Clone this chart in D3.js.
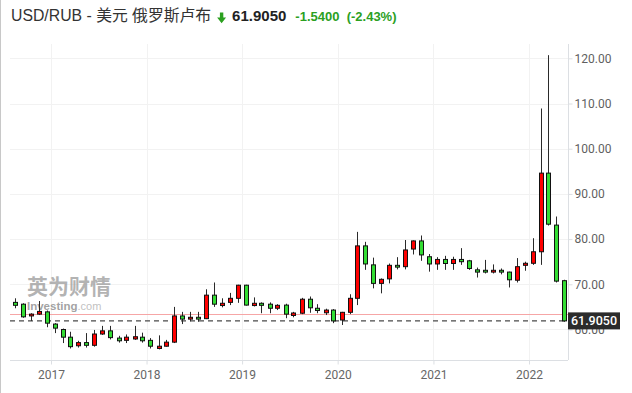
<!DOCTYPE html>
<html>
<head>
<meta charset="utf-8">
<script src="https://cdn.jsdelivr.net/npm/d3@7"></script>
<style>
  html, body { margin: 0; padding: 0; background: #fff; }
  #chart { width: 632px; height: 393px; }
</style>
</head>
<body>
<div id="chart"></div>
<script>
// 月K线数据 (USD/RUB)
const months = [
  '2016-08', '2016-09', '2016-10', '2016-11', '2016-12',
  '2017-01', '2017-02', '2017-03', '2017-04', '2017-05', '2017-06', '2017-07', '2017-08', '2017-09', '2017-10', '2017-11', '2017-12',
  '2018-01', '2018-02', '2018-03', '2018-04', '2018-05', '2018-06', '2018-07', '2018-08', '2018-09', '2018-10', '2018-11', '2018-12',
  '2019-01', '2019-02', '2019-03', '2019-04', '2019-05', '2019-06', '2019-07', '2019-08', '2019-09', '2019-10', '2019-11', '2019-12',
  '2020-01', '2020-02', '2020-03', '2020-04', '2020-05', '2020-06', '2020-07', '2020-08', '2020-09', '2020-10', '2020-11', '2020-12',
  '2021-01', '2021-02', '2021-03', '2021-04', '2021-05', '2021-06', '2021-07', '2021-08', '2021-09', '2021-10', '2021-11', '2021-12',
  '2022-01', '2022-02', '2022-03', '2022-04', '2022-05'
]
const open = [
  66.0, 65.6, 63.0, 63.4, 63.9,
  61.2, 60.0, 58.3, 56.4, 57.1, 56.5, 59.0, 59.7, 58.1, 57.6, 57.9, 58.3,
  57.6, 55.8, 56.3, 57.2, 63.0, 62.3, 62.7, 62.4, 67.6, 65.3, 66.0, 66.9,
  69.8, 65.3, 65.8, 65.6, 64.7, 65.4, 63.1, 63.6, 66.7, 64.7, 63.7, 64.3,
  62.1, 63.8, 66.9, 78.5, 74.3, 70.2, 71.2, 74.2, 73.9, 77.8, 79.6, 76.1,
  74.5, 75.5, 74.6, 75.5, 75.2, 73.2, 73.1, 72.7, 73.1, 72.7, 70.9, 74.2,
  74.65, 77.2, 94.6, 83.1, 70.8
]
const high = [
  66.9, 65.8, 63.6, 66.3, 64.2,
  61.4, 60.2, 59.5, 57.5, 59.2, 59.9, 60.8, 60.8, 58.6, 58.9, 60.8, 59.3,
  58.1, 58.7, 57.7, 65.0, 63.9, 63.9, 63.9, 68.9, 70.4, 66.9, 68.1, 69.9,
  69.9, 67.1, 66.0, 66.0, 65.6, 65.7, 63.9, 67.0, 67.3, 65.6, 64.6, 64.5,
  63.9, 67.8, 81.6, 79.4, 75.9, 71.3, 74.6, 76.0, 79.8, 79.7, 80.8, 76.7,
  76.0, 76.3, 76.1, 78.0, 75.4, 73.7, 75.4, 74.4, 73.5, 72.8, 75.8, 75.0,
  80.2, 108.9, 120.7, 85.0, 71.0
]
const low = [
  64.7, 62.6, 61.9, 63.2, 60.5,
  59.2, 57.0, 55.8, 56.0, 56.0, 56.2, 58.8, 57.8, 57.1, 57.0, 57.7, 57.1,
  55.8, 55.6, 56.2, 57.0, 61.2, 61.8, 61.7, 62.3, 65.0, 64.9, 65.4, 65.9,
  65.3, 65.1, 63.6, 63.6, 64.3, 62.5, 62.7, 63.4, 63.7, 63.6, 63.2, 61.4,
  61.0, 63.4, 65.4, 73.2, 69.1, 68.0, 70.2, 73.3, 73.3, 76.6, 75.2, 72.8,
  73.2, 73.2, 73.2, 74.3, 73.2, 71.5, 72.4, 72.4, 72.2, 69.3, 70.4, 73.0,
  74.3, 74.3, 83.0, 70.4, 61.7
]
const close = [
  65.35, 62.8, 63.4, 64.0, 61.4,
  60.3, 58.3, 56.2, 57.1, 56.5, 59.0, 59.7, 58.2, 57.5, 58.3, 58.4, 57.5,
  56.3, 56.3, 57.2, 63.0, 62.3, 62.7, 62.3, 67.6, 65.6, 65.8, 66.9, 69.8,
  65.4, 65.8, 65.35, 64.7, 65.35, 63.4, 63.65, 66.7, 64.8, 64.2, 64.3, 61.9,
  63.8, 66.9, 78.5, 74.5, 70.2, 71.1, 74.2, 73.8, 77.6, 79.6, 76.5, 74.5,
  75.5, 74.6, 75.5, 75.0, 73.5, 72.7, 72.7, 73.1, 72.7, 71.0, 73.9, 74.65,
  77.2, 94.6, 83.3, 70.7, 61.905
]
const yearTicks = ['2017', '2018', '2019', '2020', '2021', '2022']
const priceTicks = [60, 70, 80, 90, 100, 110, 120]
const lastPrice = 61.905
const prevClose = 63.445
const titleText = 'USD/RUB - 美元 俄罗斯卢布'
const changeText = '-1.5400  (-2.43%)'

const width = 632
const height = 393
const upColor = '#ff0000'   // 涨
const downColor = '#33dd33' // 跌
const changeColor = '#2ba01f'
const latin = '"Liberation Sans", Arial, "Noto Sans CJK SC", sans-serif'
const axisFont = 'Roboto, "Liberation Sans", sans-serif'

const parseMonth = d3.timeParse('%Y-%m')
const data = months.map((m, i) => ({
  date: d3.timeDay.offset(parseMonth(m), 15),
  o: open[i], h: high[i], l: low[i], c: close[i]
}))

const plot = { left: 10, right: 568, top: 44, bottom: 360 }

const x = d3.scaleTime()
  .domain([new Date(2017, 0, 1), new Date(2022, 0, 1)])
  .range([51, 529])

const y = d3.scaleLinear()
  .domain([53.25, 123.17])
  .range([plot.bottom, plot.top])

const svg = d3.select('#chart').append('svg')
  .attr('width', width)
  .attr('height', height)
  .style('display', 'block')

// 页面左边框
svg.append('line')
  .attr('x1', 0.5).attr('x2', 0.5).attr('y1', 0).attr('y2', height)
  .attr('stroke', '#c8c8c8')

// 标题行
const header = svg.append('g').attr('class', 'header')
const title = header.append('text')
  .attr('x', 11).attr('y', 21)
  .style('font', `15.8px ${latin}`)
  .attr('fill', '#333')
  .text(titleText)
let hx = 11 + title.node().getComputedTextLength() + 6

header.append('path')
  .attr('transform', `translate(${hx},0)`)
  .attr('d', 'M2.8,12.5h3.4v5h2.8l-4.5,5.8l-4.5,-5.8h2.8z')
  .attr('fill', changeColor)
hx += 15

const price = header.append('text')
  .attr('x', hx).attr('y', 21)
  .style('font', `bold 15px ${latin}`)
  .attr('fill', '#222')
  .text(lastPrice.toFixed(4))
hx += price.node().getComputedTextLength() + 9

header.append('text')
  .attr('x', hx).attr('y', 21)
  .style('font', `bold 13px ${latin}`)
  .style('white-space', 'pre')
  .attr('fill', changeColor)
  .text(changeText)

// 网格线
const grid = svg.append('g').attr('class', 'grid')
grid.selectAll('line.h')
  .data(priceTicks)
  .join('line')
  .attr('class', 'h')
  .attr('x1', plot.left).attr('x2', plot.right)
  .attr('y1', (d) => Math.round(y(d)) + 0.5)
  .attr('y2', (d) => Math.round(y(d)) + 0.5)
  .attr('stroke', '#f2f2f2')
grid.selectAll('line.v')
  .data(yearTicks)
  .join('line')
  .attr('class', 'v')
  .attr('x1', (d) => Math.round(x(new Date(+d, 0, 1))) + 0.5)
  .attr('x2', (d) => Math.round(x(new Date(+d, 0, 1))) + 0.5)
  .attr('y1', plot.top).attr('y2', plot.bottom)
  .attr('stroke', '#f2f2f2')

// 水印
const mark = svg.append('g').attr('class', 'watermark')
mark.append('text')
  .attr('x', 27).attr('y', 294)
  .style('font', 'bold 21px "Noto Sans CJK SC", sans-serif')
  .attr('fill', '#9a9a9a')
  .attr('fill-opacity', 0.75)
  .text('英为财情')
const inv = mark.append('text')
  .attr('x', 27).attr('y', 310)
  .attr('fill-opacity', 0.8)
inv.append('tspan')
  .style('font', `bold 11.5px ${latin}`)
  .attr('fill', '#8a8a8a')
  .text('Investing')
inv.append('tspan')
  .style('font', `11px ${latin}`)
  .attr('fill', '#b0b0b0')
  .text('.com')

// 坐标轴
const yAxis = d3.axisRight(y)
  .tickValues(priceTicks)
  .tickFormat(d3.format('.2f'))
  .tickSize(4)
  .tickPadding(2)
const gy = svg.append('g')
  .attr('transform', `translate(${plot.right + 0.5},0)`)
  .call(yAxis)
gy.select('.domain').attr('stroke', '#dcdfe3').attr('d', `M0,${plot.top}V${plot.bottom}`)
gy.selectAll('.tick line').attr('stroke', '#dcdfe3')
gy.selectAll('.tick text')
  .style('font', `12px ${axisFont}`)
  .attr('fill', '#5f5f5f')

const xAxis = d3.axisBottom(x)
  .tickValues(yearTicks.map((d) => new Date(+d, 0, 1)))
  .tickFormat(d3.timeFormat('%Y'))
  .tickSize(4)
  .tickPadding(6)
const gx = svg.append('g')
  .attr('transform', `translate(0,${plot.bottom + 0.5})`)
  .call(xAxis)
gx.select('.domain').attr('stroke', '#dcdfe3').attr('d', `M${plot.left},0H${plot.right}`)
gx.selectAll('.tick line').attr('stroke', '#dcdfe3')
gx.selectAll('.tick text')
  .style('font', `12px ${axisFont}`)
  .attr('fill', '#666')

// 昨收线 + 现价虚线
svg.append('line')
  .attr('x1', plot.left).attr('x2', plot.right)
  .attr('y1', Math.round(y(prevClose)) + 0.5)
  .attr('y2', Math.round(y(prevClose)) + 0.5)
  .attr('stroke', '#f6a6a6')
svg.append('line')
  .attr('x1', plot.left).attr('x2', plot.right)
  .attr('y1', y(lastPrice)).attr('y2', y(lastPrice))
  .attr('stroke', '#4a4a4a')
  .attr('stroke-width', 1.2)
  .attr('stroke-dasharray', '5,4')

// K线
const candle = svg.append('g')
  .attr('class', 'candles')
  .selectAll('g')
  .data(data)
  .join('g')
  .attr('transform', (d) => `translate(${Math.round(x(d.date)) + 0.5},0)`)

candle.append('line')
  .attr('y1', (d) => y(d.h))
  .attr('y2', (d) => y(d.l))
  .attr('stroke', '#2a2a2a')

candle.append('rect')
  .attr('x', -2)
  .attr('width', 4)
  .attr('y', (d) => y(Math.max(d.o, d.c)))
  .attr('height', (d) => Math.max(1, Math.abs(y(d.o) - y(d.c))))
  .attr('fill', (d) => d.c >= d.o ? upColor : downColor)
  .attr('stroke', '#111')
  .attr('stroke-width', 1)

// 现价标签 (盖住部分 60.00 刻度, 与原图一致)
const py = y(lastPrice)
svg.append('rect')
  .attr('x', plot.right).attr('y', py - 8.5)
  .attr('width', 52).attr('height', 17)
  .attr('fill', '#2b2b2b')
svg.append('text')
  .attr('x', plot.right + 26).attr('y', py + 4.5)
  .attr('text-anchor', 'middle')
  .style('font', `500 12.5px ${axisFont}`)
  .attr('fill', '#fff')
  .text(lastPrice.toFixed(4))
</script>
</body>
</html>
